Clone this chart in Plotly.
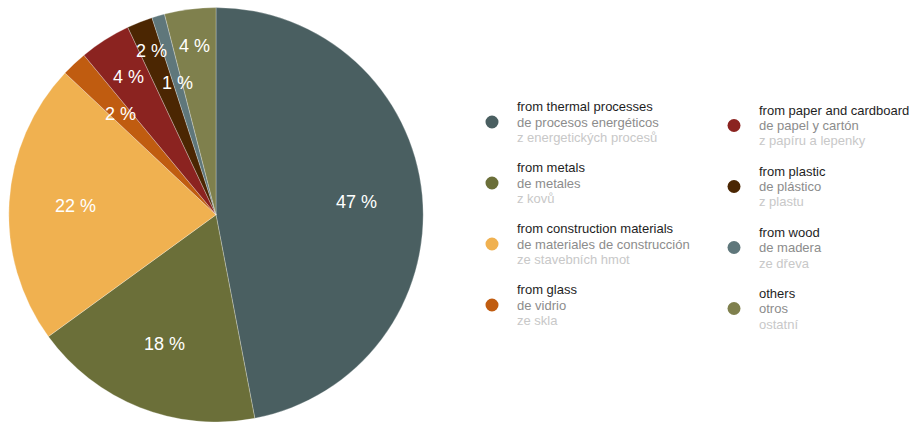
import math
import plotly.graph_objects as go

# Waste categories (three languages) and their shares in percent
labels_en = ["from thermal processes", "from metals", "from construction materials",
             "from glass", "from paper and cardboard", "from plastic", "from wood", "others"]
labels_es = ["de procesos energéticos", "de metales", "de materiales de construcción",
             "de vidrio", "de papel y cartón", "de plástico", "de madera", "otros"]
labels_cs = ["z energetických procesů", "z kovů", "ze stavebních hmot",
             "ze skla", "z papíru a lepenky", "z plastu", "ze dřeva", "ostatní"]
shares = [47, 18, 22, 2, 4, 2, 1, 4]
colors = ["#4a5f61", "#6b6f39", "#f0b150", "#c05c10",
          "#8b2320", "#4b2602", "#5f777b", "#7f804d"]
# radial position of each percentage label, as a fraction of the pie radius
label_radius = [0.68, 0.67, 0.68, 0.67, 0.79, 0.85, 0.66, 0.82]

W, H = 912, 422
dom_x = [8 / W, 424 / W]
dom_y = [0.0, 0.982]
FONT = "Liberation Sans, Arial, sans-serif"

fig = go.Figure()
fig.add_trace(go.Pie(
    values=shares,
    labels=labels_en,
    sort=False,
    direction="clockwise",
    rotation=0,
    marker=dict(colors=colors, line=dict(color="rgba(255,255,255,0.45)", width=0.6)),
    textinfo="none",
    hoverinfo="label+percent",
    showlegend=False,
    domain=dict(x=dom_x, y=dom_y),
))

# pie geometry in pixels, used to place percentage labels at slice mid-angles
cx = (dom_x[0] + dom_x[1]) / 2 * W
cy = H - (dom_y[0] + dom_y[1]) / 2 * H
R = min((dom_x[1] - dom_x[0]) * W, (dom_y[1] - dom_y[0]) * H) / 2
total = sum(shares)
annotations = []
shapes = []
cum = 0
for v, f in zip(shares, label_radius):
    mid = (cum + v / 2) / total * 2 * math.pi
    cum += v
    px = cx + f * R * math.sin(mid)
    py = cy - f * R * math.cos(mid)
    annotations.append(dict(
        x=px / W, y=1 - py / H, xref="paper", yref="paper",
        text=f"{v} %", showarrow=False, xanchor="center", yanchor="middle",
        font=dict(family=FONT, size=18, color="white"),
    ))

# two-column legend: coloured dot + three lines of text (en / es / cs)
col_dot_x = [492, 734]
col_text_x = [515, 757]
col_y0 = [122, 125.5]
row_step = 61
line_step = 15.5
line_colors = ["#1e1e1e", "#8c8c8c", "#c8c8c8"]
for i, (en, es, cs, c) in enumerate(zip(labels_en, labels_es, labels_cs, colors)):
    col, row = divmod(i, 4)
    y = col_y0[col] + row * row_step
    shapes.append(dict(
        type="circle", xref="paper", yref="paper",
        xsizemode="pixel", ysizemode="pixel",
        xanchor=col_dot_x[col] / W, yanchor=1 - y / H,
        x0=-6.5, x1=6.5, y0=-6.5, y1=6.5,
        fillcolor=c, line=dict(width=0),
    ))
    for k, (txt, lc) in enumerate(zip([en, es, cs], line_colors)):
        ly = y + (k - 1) * line_step
        annotations.append(dict(
            x=col_text_x[col] / W, y=1 - ly / H, xref="paper", yref="paper",
            showarrow=False, xanchor="left", yanchor="middle", align="left",
            text=txt,
            font=dict(family=FONT, size=13, color=lc),
        ))

fig.update_layout(
    width=W, height=H,
    margin=dict(l=0, r=0, t=0, b=0),
    paper_bgcolor="white",
    plot_bgcolor="white",
    annotations=annotations,
    shapes=shapes,
)

fig.write_html("out.html")
